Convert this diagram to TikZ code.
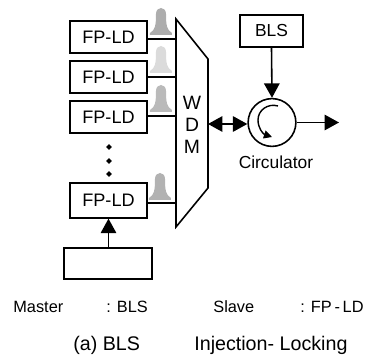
\documentclass[tikz,border=0pt]{standalone}
\usepackage{fontspec}
\setmainfont{Liberation Sans}
\usetikzlibrary{arrows.meta}
\usetikzlibrary{shapes.geometric}

\tikzset{
  ldbox/.style={draw,line width=0.9pt,minimum width=43.6pt,minimum height=18.1pt,inner sep=0pt,font=\fontsize{10.3}{12}\selectfont},
  line/.style={line width=0.9pt},
  bigtip/.style={line width=0.9pt,-{Triangle[length=8.2pt,width=8.8pt]}},
  bothtip/.style={line width=0.9pt,{Triangle[length=8.2pt,width=8.8pt]}-{Triangle[length=8.2pt,width=8.8pt]}},
  smalldot/.style={diamond,fill=black,inner sep=0pt,minimum size=3.4pt},
  smalltext/.style={font=\fontsize{9.3}{11}\selectfont,inner sep=0pt},
  captext/.style={font=\fontsize{11.2}{13}\selectfont,inner sep=0pt},
  pics/peak/.style={code={
    \fill[#1] (-11,0) -- (11,0) -- (11,-2) .. controls (6,-5) and (5,-9) .. (5,-21)
      .. controls (5,-29) and (-5,-29) .. (-5,-21) .. controls (-5,-9) and (-6,-5) .. (-11,-2) -- cycle;
  }}
}

\begin{document}
\begin{tikzpicture}[x=0.02cm,y=-0.02cm]
\useasboundingbox (0,0) rectangle (366,358);

% lasers
\node[ldbox] (lda) at (108.5,37){FP-LD};
\node[ldbox] (ldb) at (108.5,77){FP-LD};
\node[ldbox] (ldc) at (108.5,117){FP-LD};
\node[ldbox,minimum height=19.8pt] (ldd) at (108.5,200.5){FP-LD};
\node[draw,line width=0.9pt,minimum width=49.9pt,minimum height=17.6pt,inner sep=0pt] (drive) at (108,263.5){};

\pic at (161,35) {peak={black!32}};
\pic at (161,73) {peak={black!14}};
\pic at (161,112) {peak={black!27}};
\pic at (160,200) {peak={black!30}};

\node[smalldot] (dota) at (109,147){};
\node[smalldot] (dotb) at (109,161){};
\node[smalldot] (dotc) at (109,174){};

% mux
\draw[line,line join=miter] (176,19) -- (208,59) -- (208,188) -- (176,227) -- cycle;
\node[inner sep=0pt,align=center,font=\fontsize{11}{12.4}\selectfont] (wdmtext) at (192,125){W\\D\\M};
\coordinate (porta) at (176,39);
\coordinate (portb) at (176,77);
\coordinate (portc) at (176,116);
\coordinate (portd) at (176,203);
\coordinate (portout) at (208,124);
\draw[line] (lda.east |- porta) -- (porta);
\draw[line] (ldb.east |- portb) -- (portb);
\draw[line] (ldc.east |- portc) -- (portc);
\draw[line] (ldd.east |- portd) -- (portd);
\draw[bigtip] (drive.north -| ldd.south) -- (ldd.south);

% circulator
\node[ldbox,minimum width=35.7pt,font=\fontsize{9.9}{12}\selectfont] (bls) at (271.5,31){BLS};
\node[draw,circle,line width=0.9pt,minimum size=27.2pt,inner sep=0pt] (circ) at (272,122.5){};
\coordinate (outend) at (339,122.5);
\draw[bigtip] (bls.south) -- (circ.north);
\draw[bothtip] (portout) -- (portout -| circ.west);
\draw[bigtip] (circ.east) -- (outend);
\draw[line width=0.8pt,-{Triangle[length=4.6pt,width=4.6pt]}] (278,106) .. controls (268,103) and (258,110) .. (258,120) .. controls (258,128) and (263,134) .. (272,137);
\node[smalltext,font=\fontsize{9.9}{12}\selectfont] (circlabel) at (276,162){Circulator};

% legend
\node[smalltext,anchor=west] (master) at (13,307){Master};
\node[smalltext,anchor=west] (masterval) at (106,307){: BLS};
\node[smalltext,anchor=west] (slave) at (213,307){Slave};
\node[smalltext,anchor=west] (slaveval) at (300,307){: FP\,-\,LD};
\node[captext,anchor=west] (capa) at (73,345){(a) BLS};
\node[captext,anchor=west] (capb) at (194,345){Injection- Locking};
\end{tikzpicture}
\end{document}
